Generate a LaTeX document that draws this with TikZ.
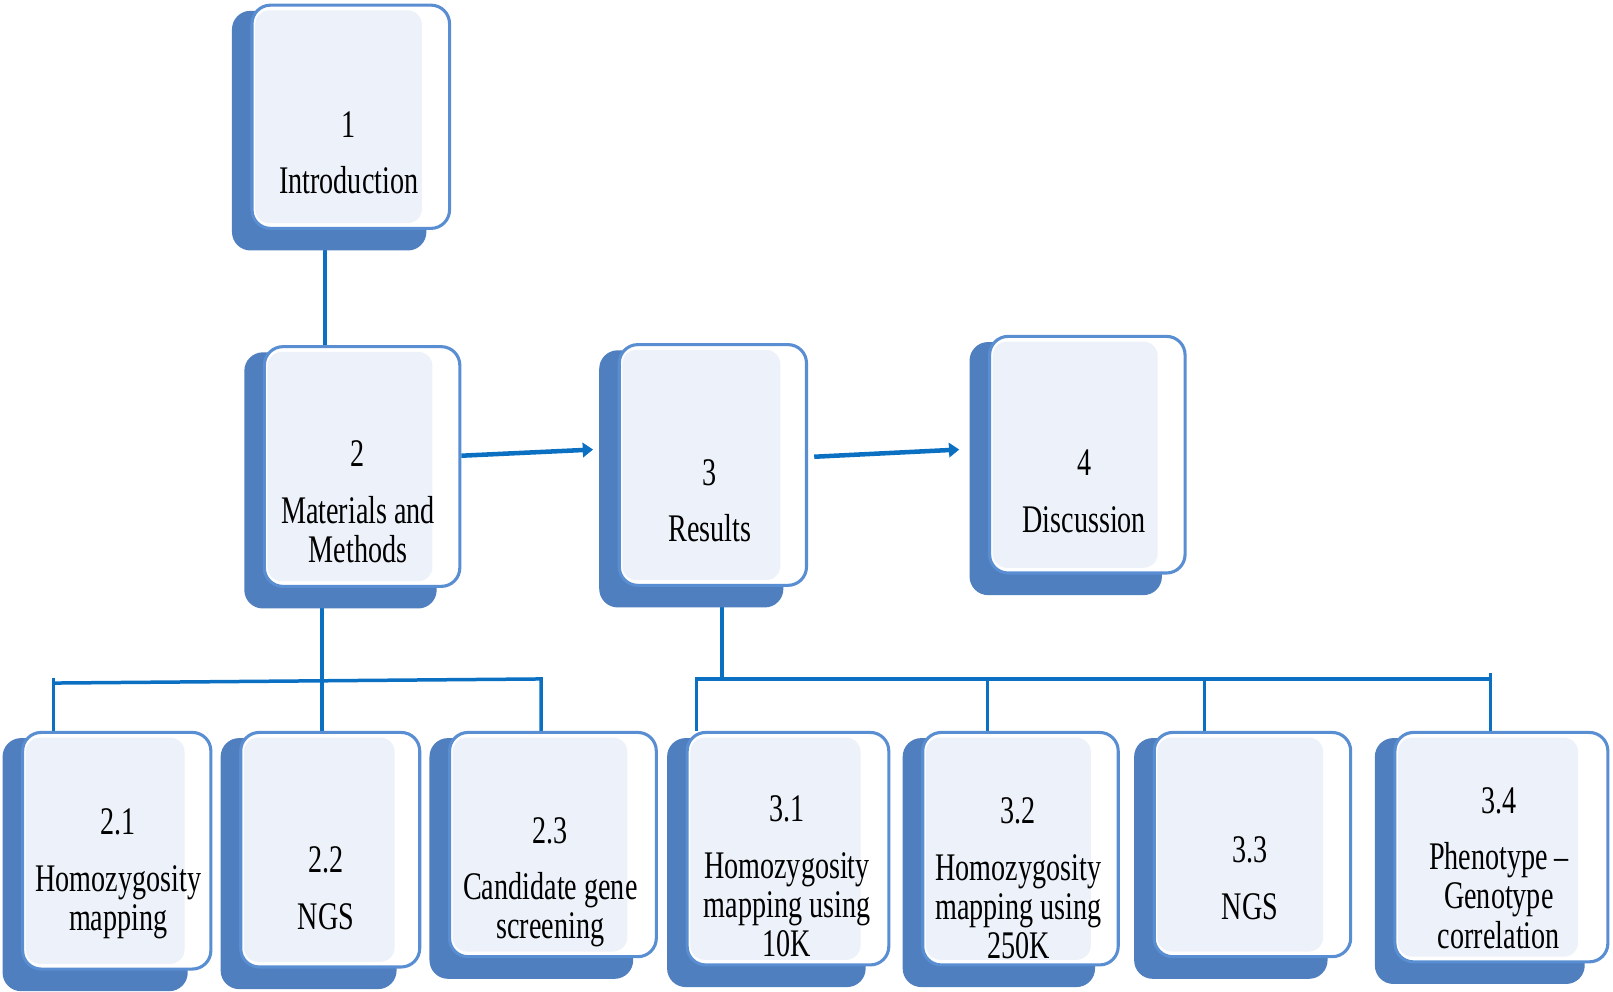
\documentclass[tikz,border=0pt]{standalone}
\usepackage{fontspec}
\setmainfont{Liberation Serif}[FakeStretch=0.72]
\usetikzlibrary{calc,arrows.meta,backgrounds,fit}
\definecolor{shad}{HTML}{4F7FBE}
\definecolor{bord}{HTML}{5A8ED2}
\definecolor{fillc}{HTML}{EDF1F9}
\definecolor{conn}{HTML}{0B6FC2}
\tikzset{
  front/.style={rectangle, rounded corners=9pt, draw=bord, line width=1.5pt, fill=white, inner sep=0pt,
    path picture={\fill[fillc, rounded corners=7pt]
      ($(path picture bounding box.north west)+(1.5pt,-2.5pt)$) rectangle
      ($(path picture bounding box.south west)!0.86!(path picture bounding box.south east)+(0,2.5pt)$);}},
  shadowbox/.style={fill=shad, rounded corners=9pt},
  txt/.style={align=center, inner sep=0pt, anchor=north, font=\fontsize{19}{19}\selectfont},
  tree/.style={draw=conn, line width=1.7pt},
  arr/.style={draw=conn, line width=2.2pt, -{Triangle[length=5pt,width=7pt]}}
}
\newcommand{\boxshadow}[1]{\fill[shadowbox] ($(#1.north west)+(-18,7)$) rectangle ($(#1.south east)+(-24,20)$);}
\begin{document}
\begin{tikzpicture}[x=0.5pt,y=-0.5pt]
\useasboundingbox (0,0) rectangle (1568,964);
% front boxes
\node[front, fit={(245,5) (437,222)}] (b1) {};
\node[front, fit={(257,337) (447,570)}] (b2) {};
\node[front, fit={(602,335) (784,569)}] (b3) {};
\node[front, fit={(962,327) (1152,557)}] (b4) {};
\node[front, fit={(22,712) (205,942)}] (b21) {};
\node[front, fit={(234,712) (408,940)}] (b22) {};
\node[front, fit={(437,712) (638,930)}] (b23) {};
\node[front, fit={(668,712) (864,938)}] (b31) {};
\node[front, fit={(897,712) (1087,938)}] (b32) {};
\node[front, fit={(1122,712) (1313,930)}] (b33) {};
\node[front, fit={(1356,712) (1563,935)}] (b34) {};
% texts
\node[txt] (t1) at (339,108) {1\\[8.5pt]Introduction};
\node[txt] (t2) at (348,428) {2\\[8.5pt]Materials and\\Methods};
\node[txt] (t3) at (690,446) {3\\[8.5pt]Results};
\node[txt] (t4) at (1054,437) {4\\[8.5pt]Discussion};
\node[txt] (t21) at (115,786) {2.1\\[8.5pt]Homozygosity\\mapping};
\node[txt] (t22) at (317,823) {2.2\\[8.5pt]NGS};
\node[txt] (t23) at (535,794) {2.3\\[8.5pt]Candidate gene\\screening};
\node[txt] (t31) at (765,773) {3.1\\[8.5pt]Homozygosity\\mapping using\\10K};
\node[txt] (t32) at (990,775) {3.2\\[8.5pt]Homozygosity\\mapping using\\250K};
\node[txt] (t33) at (1215,813) {3.3\\[8.5pt]NGS};
\node[txt] (t34) at (1457,765) {3.4\\[8.5pt]Phenotype\,–\\Genotype\\correlation};
% junction coordinates
\coordinate (k1) at (316,0);
\coordinate (k2) at (313,0);
\coordinate (k3) at (702,0);
\coordinate (h2l) at (52,664);
\coordinate (h2r) at (526,660);
\coordinate (h3l) at (677,660);
\coordinate (h3a) at (960,660);
\coordinate (h3b) at (1171,660);
\coordinate (h3r) at (1449,660);
% arrows
\draw[arr] ([yshift=5.25pt]b2.east) -- ($(b3.west)+(-24,-15)$);
\draw[arr] ($(b3.east)+(6,-8)$) -- ($(b4.west)+(-28,-5)$);
\begin{scope}[on background layer]
  \draw[tree] (b1.south -| k1) -- (b2.north -| k1);
  \draw[tree] (b2.south -| k2) -- (b22.north -| k2);
  \draw[tree] (h2l |- b21.north) -- ($(h2l)+(0,-5)$);
  \draw[tree] (h2l) -- (h2r) -- (h2r |- b23.north);
  \draw[tree] (b3.south -| k3) -- (k3 |- h3l);
  \draw[tree] (h3l |- b31.north) -- (h3l) -- (h3r);
  \draw[tree] (h3a) -- (h3a |- b32.north);
  \draw[tree] (h3b) -- (h3b |- b33.north);
  \draw[tree] ($(h3r)+(0,-6)$) -- (h3r |- b34.north);
  \boxshadow{b1}
  \boxshadow{b2}
  \boxshadow{b3}
  \boxshadow{b4}
  \boxshadow{b21}
  \boxshadow{b22}
  \boxshadow{b23}
  \boxshadow{b31}
  \boxshadow{b32}
  \boxshadow{b33}
  \boxshadow{b34}
\end{scope}
\end{tikzpicture}
\end{document}
